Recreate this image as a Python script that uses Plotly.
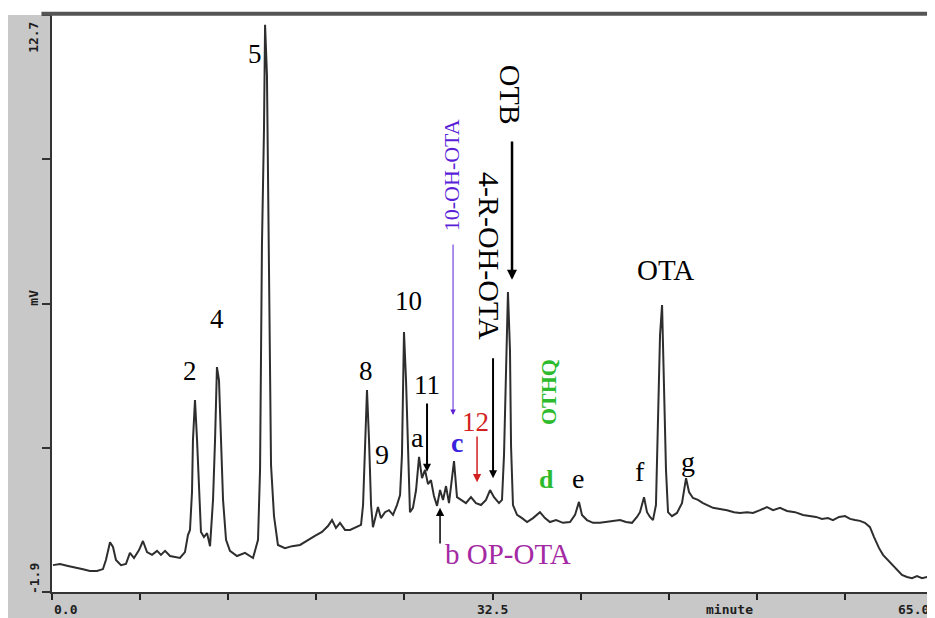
import plotly.graph_objects as go

# retention time (minute) and detector signal (mV)
time_min = [0.07, 0.59, 1.18, 1.70, 2.21, 2.80, 3.32, 3.76, 3.98, 4.28, 4.50, 4.72, 5.09, 5.46, 5.75,
            6.05, 6.42, 6.71, 7.01, 7.38, 7.75, 8.04, 8.34, 8.71, 9.07, 9.44, 9.81, 10.03, 10.18, 10.33,
            10.40, 10.55, 10.70, 10.85, 10.99, 11.21, 11.44, 11.66, 11.88, 12.03, 12.17, 12.32, 12.47, 12.62,
            12.84, 13.13, 13.65, 14.24, 14.83, 15.20, 15.35, 15.49, 15.64, 15.72, 15.86, 15.94, 16.01, 16.16,
            16.38, 16.67, 17.19, 17.71, 18.30, 18.89, 19.40, 19.92, 20.36, 20.66, 20.95, 21.25, 21.62, 21.99,
            22.43, 22.80, 22.95, 23.09, 23.24, 23.39, 23.54, 23.68, 23.91, 24.05, 24.27, 24.57, 24.86, 25.16,
            25.45, 25.68, 25.82, 25.97, 26.12, 26.27, 26.41, 26.63, 26.86, 27.08, 27.30, 27.52, 27.74, 27.96,
            28.18, 28.41, 28.63, 28.85, 29.07, 29.29, 29.51, 29.66, 29.88, 30.18, 30.54, 30.91, 31.28, 31.65,
            32.02, 32.32, 32.61, 32.98, 33.20, 33.35, 33.50, 33.64, 33.79, 33.87, 34.01, 34.31, 34.68, 35.05,
            35.49, 36.00, 36.37, 36.74, 37.19, 37.70, 38.22, 38.59, 38.88, 39.10, 39.47, 39.92, 40.43, 40.95,
            41.46, 41.91, 42.35, 42.79, 43.16, 43.38, 43.68, 43.90, 44.12, 44.34, 44.56, 44.71, 44.86, 45.01,
            45.15, 45.30, 45.45, 45.74, 46.11, 46.48, 46.78, 47.00, 47.29, 47.66, 48.03, 48.40, 48.77, 49.28,
            49.80, 50.32, 50.76, 51.28, 51.72, 52.24, 52.75, 53.20, 53.71, 54.23, 54.82, 55.41, 55.93, 56.37,
            56.81, 57.25, 57.62, 58.07, 58.51, 58.88, 59.25, 59.61, 59.98, 60.35, 60.65, 61.02, 61.31, 61.68,
            61.98, 62.34, 62.71, 63.08, 63.45, 63.82, 64.19, 64.56, 64.93]
signal_mv = [-1.22, -1.19, -1.24, -1.29, -1.32, -1.37, -1.37, -1.32, -1.09, -0.64, -0.76, -1.09, -1.22, -1.19, -0.91,
             -1.04, -0.84, -0.61, -0.89, -0.96, -0.86, -0.96, -0.86, -0.99, -1.01, -1.04, -0.89, -0.46, -0.33, 0.63,
             1.95, 2.96, 1.95, 0.58, -0.38, -0.51, -0.41, -0.74, 0.43, 1.95, 3.79, 3.46, 1.82, 0.43, -0.58,
             -0.86, -0.99, -0.91, -1.04, -0.58, 1.19, 6.88, 9.79, 12.45, 11.18, 8.27, 4.98, 1.31,
             0.02, -0.71, -0.79, -0.74, -0.71, -0.58, -0.48, -0.38, -0.23, -0.08, -0.28, -0.15, -0.33, -0.33,
             -0.26, -0.20, 0.30, 1.95, 3.21, 1.95, 0.30, -0.26, 0.07, 0.25, -0.03, 0.12, 0.17, 0.05,
             0.30, 0.55, 1.57, 4.68, 3.46, 1.57, 0.12, 0.23, 0.68, 1.52, 0.98, 1.19, 0.83, 0.93,
             0.53, 0.28, 0.68, 0.43, 0.78, 0.35, 0.93, 1.41, 0.50, 0.43, 0.35, 0.50, 0.35, 0.30,
             0.43, 0.68, 0.50, 0.35, 0.43, 1.57, 3.97, 5.69, 4.22, 1.77, 0.30, 0.05, -0.03, -0.13,
             -0.03, 0.12, -0.03, -0.13, -0.08, -0.15, -0.13, 0.05, 0.38, 0.05, -0.08, -0.15, -0.15, -0.13,
             -0.10, -0.08, -0.13, -0.15, 0.00, 0.12, 0.50, 0.12, 0.00, -0.08, 0.30, 2.45, 4.60, 5.36,
             3.59, 1.19, 0.12, 0.02, 0.10, 0.35, 0.98, 0.63, 0.48, 0.43, 0.35, 0.30, 0.23, 0.20,
             0.17, 0.12, 0.10, 0.12, 0.10, 0.17, 0.25, 0.17, 0.23, 0.15, 0.12, 0.05, 0.02, 0.00,
             -0.05, -0.03, -0.08, 0.00, 0.02, -0.05, -0.08, -0.10, -0.15, -0.26, -0.51, -0.79, -0.96, -1.09,
             -1.22, -1.34, -1.47, -1.52, -1.55, -1.50, -1.55, -1.52, -1.57]

x_ticks = [0, 6.5, 13, 19.5, 26, 32.5, 39, 45.5, 52, 58.5, 65]
x_labels = [('0.0', 0, 'left'), ('32.5', 32.5, 'center'), ('65.0', 64.85, 'right'), ('minute', 50.0, 'center')]
y_ticks = [-1.9, 1.75, 5.4, 9.05, 12.7]
y_labels = [('12.7', 0.962), ('mV', 0.51), ('-1.9', 0.024)]

# peak labels: text, time, mV, colour, size, bold, angle
peak_labels = [
    ('2', 10.18, 3.70, 'black', 27, False, 0),
    ('4', 12.17, 5.02, 'black', 27, False, 0),
    ('5', 14.98, 11.72, 'black', 27, False, 0),
    ('8', 23.17, 3.70, 'black', 27, False, 0),
    ('9', 24.35, 1.57, 'black', 28, False, 0),
    ('10', 26.30, 5.47, 'black', 27, False, 0),
    ('11', 27.67, 3.34, 'black', 27, False, 0),
    ('a', 26.97, 2.00, 'black', 28, False, 0),
    ('c', 29.88, 1.89, '#3a22dd', 28, True, 0),
    ('12', 31.21, 2.41, '#d21f1f', 27, False, 0),
    ('d', 36.45, 0.94, '#2dbb2d', 26, True, 0),
    ('e', 38.81, 0.96, 'black', 28, False, 0),
    ('f', 43.38, 1.14, 'black', 28, False, 0),
    ('g', 46.93, 1.39, 'black', 28, False, 0),
    ('OTA', 45.30, 6.25, 'black', 29, False, 0),
    ('b OP-OTA', 33.64, -0.93, '#a42aa4', 29, False, 0),
    ('10-OH-OTA', 29.45, 8.65, '#5a1fd6', 22, False, -90),
    ('OTB', 33.79, 10.68, 'black', 30, False, 90),
    ('4-R-OH-OTA', 32.32, 6.60, 'black', 30, False, 90),
    ('OTHQ', 36.6, 3.16, '#2dbb2d', 22, True, -90),
]

# arrows: time, mV tail -> mV head, colour, width
arrows = [
    (27.67, 2.91, 1.14, 'black', 2),
    (29.59, 6.93, 2.58, '#5a1fd6', 1),
    (31.36, 2.07, 0.88, '#d21f1f', 1.5),
    (32.54, 4.05, 0.98, 'black', 2),
    (33.94, 9.54, 6.0, 'black', 2.5),
    (28.63, -0.71, 0.23, 'black', 1.5),
]

axis_font = dict(family='DejaVu Sans Mono', size=13, color='#1e1e1e')

fig = go.Figure()
fig.add_trace(go.Scatter(x=time_min, y=signal_mv, mode='lines',
                         line=dict(color='#2e2e2e', width=2), showlegend=False, hoverinfo='skip'))

for text, x, y, col, size, bold, ang in peak_labels:
    fig.add_annotation(x=x, y=y, text='<b>%s</b>' % text if bold else text, showarrow=False,
                       textangle=ang, font=dict(family='Liberation Serif', size=size, color=col))

for x, y0, y1, col, w in arrows:
    fig.add_annotation(x=x, y=y1, ax=x, ay=y0, xref='x', yref='y', axref='x', ayref='y', text='',
                       showarrow=True, arrowhead=2, arrowsize=1.1 if w < 2 else 0.8,
                       arrowwidth=w, arrowcolor=col)

# y axis labels, rotated like the instrument print-out
for text, yp in y_labels:
    fig.add_annotation(x=-0.0205, y=yp, xref='paper', yref='paper', xanchor='center', yanchor='middle',
                       text='<b>%s</b>' % text, showarrow=False, textangle=-90, font=axis_font)

for text, xv, anchor in x_labels:
    fig.add_annotation(x=xv, y=0, xref='x', yref='paper', xanchor=anchor, yanchor='top', yshift=-8,
                       text='<b>%s</b>' % text, showarrow=False, font=axis_font)

# white strip above the frame, as on the scanned page, and the heavier top rule
fig.add_shape(type='rect', xref='paper', yref='paper', x0=-0.07, x1=1.01, y0=1.0, y1=1.04,
              fillcolor='white', line_width=0, layer='below')
fig.add_shape(type='line', xref='paper', yref='paper', x0=-0.012, x1=1.0, y0=1.002, y1=1.002,
              line=dict(color='#555555', width=4))

fig.update_xaxes(range=[0, 65], tickvals=x_ticks, showticklabels=False, ticks='outside', ticklen=6,
                 tickwidth=2, tickcolor='#222222', showgrid=False, zeroline=False, automargin=False,
                 showline=True, linecolor='#333333', linewidth=2, mirror=True)
fig.update_yaxes(range=[-1.9, 12.7], tickvals=y_ticks, showticklabels=False, ticks='outside', ticklen=8,
                 tickwidth=2, tickcolor='#333333', showgrid=False, zeroline=False, automargin=False,
                 showline=True, linecolor='#333333', linewidth=2, mirror=True)

# page body adds an 8px offset, so the figure is 8px smaller than the window
fig.update_layout(width=927, height=610, margin=dict(l=44, r=2, t=7, b=26),
                  paper_bgcolor='#c8c8c8', plot_bgcolor='white')

fig.write_html("out.html")
